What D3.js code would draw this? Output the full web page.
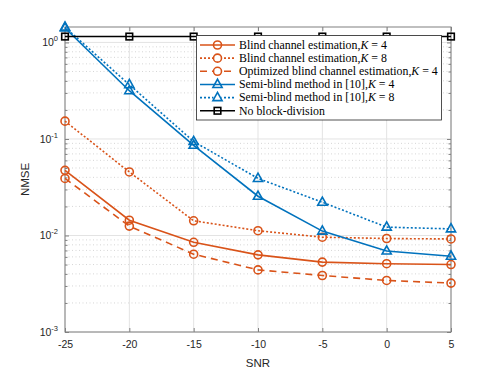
<!DOCTYPE html>
<html><head><meta charset="utf-8">
<script src="https://cdn.jsdelivr.net/npm/d3@7"></script>
<style>body{margin:0;background:#fff}svg{display:block}</style>
</head><body>
<script>
const snr = [-25, -20, -15, -10, -5, 0, 5];
const blindK4 = [0.0473, 0.0144, 0.0085, 0.0063, 0.0053, 0.0051, 0.0050];
const blindK8 = [0.153, 0.0455, 0.0142, 0.0112, 0.0096, 0.0093, 0.0092];
const optBlindK4 = [0.039, 0.0125, 0.0064, 0.0044, 0.00385, 0.00342, 0.00321];
const semiK4 = [1.41, 0.316, 0.086, 0.0255, 0.0111, 0.0069, 0.0061];
const semiK8 = [1.44, 0.365, 0.094, 0.039, 0.0221, 0.0122, 0.0117];
const noBlock = [1.15, 1.15, 1.15, 1.15, 1.15, 1.15, 1.15];
const xTicks = [-25, -20, -15, -10, -5, 0, 5];
const yTickExps = [0, -1, -2, -3];
const legendLabels = [
  "Blind channel estimation,", "Blind channel estimation,",
  "Optimized blind channel estimation,", "Semi-blind method in [10],",
  "Semi-blind method in [10],", "No block-division"];
const legendK = ["4", "8", "4", "4", "8", null];

const W = 498, H = 374;
const L = 65, R = 451, T = 27, B = 332;
const orange = "#D95319", blue = "#0072BD";

const svg = d3.select("body").append("svg").attr("width", W).attr("height", H);
const x = d3.scaleLinear().domain([-25, 5]).range([L, R]);
const y = d3.scaleLog().domain([1e-3, 1.445]).range([B, T]);

// grid
const g = svg.append("g");
const minor = [];
for (let e = -3; e <= 0; e++) for (let m = 2; m <= 9; m++) { const v = m * Math.pow(10, e); if (v < 1.445) minor.push(v); }
g.selectAll(".mg").data(minor).enter().append("line")
  .attr("x1", L).attr("x2", R).attr("y1", d => y(d)).attr("y2", d => y(d))
  .attr("stroke", "#bbb").attr("stroke-width", 0.6).attr("stroke-dasharray", "1,2.5");
g.selectAll(".yg").data(yTickExps).enter().append("line")
  .attr("x1", L).attr("x2", R).attr("y1", d => y(Math.pow(10, d))).attr("y2", d => y(Math.pow(10, d)))
  .attr("stroke", "#e3e3e3").attr("stroke-width", 1);
g.selectAll(".xg").data(xTicks).enter().append("line")
  .attr("y1", T).attr("y2", B).attr("x1", d => x(d)).attr("x2", d => x(d))
  .attr("stroke", "#e3e3e3").attr("stroke-width", 1);

// axes box
const axCol = "#808080";
svg.append("rect").attr("x", L).attr("y", T).attr("width", R - L).attr("height", B - T)
  .attr("fill", "none").attr("stroke", axCol).attr("stroke-width", 1);
const xAxB = d3.axisBottom(x).tickValues(xTicks).tickSizeInner(-4).tickSizeOuter(0).tickPadding(9).tickFormat(d3.format("d"));
const xAxT = d3.axisTop(x).tickValues(xTicks).tickSizeInner(-4).tickSizeOuter(0).tickFormat("");
const gxb = svg.append("g").attr("transform", `translate(0,${B})`).call(xAxB);
svg.append("g").attr("transform", `translate(0,${T})`).call(xAxT).select(".domain").remove();
gxb.select(".domain").remove();
svg.selectAll(".tick line").attr("stroke", axCol);
gxb.selectAll("text").attr("font-family", "Liberation Sans, Arial").attr("font-size", 10.5).attr("fill", "#262626")
  .text(d => d < 0 ? "-" + Math.abs(d) : d);

// y ticks (major + minor), both sides
const yAxL = d3.axisLeft(y).tickValues(yTickExps.map(e => Math.pow(10, e))).tickSizeInner(-4).tickSizeOuter(0).tickFormat("");
const yAxR = d3.axisRight(y).tickValues(yTickExps.map(e => Math.pow(10, e))).tickSizeInner(-4).tickSizeOuter(0).tickFormat("");
const ymL = d3.axisLeft(y).tickValues(minor).tickSizeInner(-2.5).tickSizeOuter(0).tickFormat("");
const ymR = d3.axisRight(y).tickValues(minor).tickSizeInner(-2.5).tickSizeOuter(0).tickFormat("");
[[yAxL, L], [ymL, L], [yAxR, R], [ymR, R]].forEach(([a, px]) => {
  const gg = svg.append("g").attr("transform", `translate(${px},0)`).call(a);
  gg.select(".domain").remove();
  gg.selectAll("line").attr("stroke", axCol);
});
const ylab = svg.append("g");
yTickExps.forEach(e => {
  const t = ylab.append("text").attr("x", L - 7).attr("y", y(Math.pow(10, e)) + 4)
    .attr("text-anchor", "end").attr("font-family", "Liberation Sans, Arial").attr("fill", "#262626");
  t.append("tspan").attr("font-size", 10.5).text("10");
  t.append("tspan").attr("font-size", 7.5).attr("dy", -5).text(e === 0 ? "0" : "-" + Math.abs(e));
});

// axis titles
svg.append("text").attr("x", x(-10)).attr("y", 367).attr("text-anchor", "middle")
  .attr("font-family", "Liberation Sans, Arial").attr("font-size", 11.5).attr("fill", "#262626").text("SNR");
svg.append("text").attr("transform", `translate(29,${(T + B) / 2}) rotate(-90)`).attr("text-anchor", "middle")
  .attr("font-family", "Liberation Sans, Arial").attr("font-size", 11.5).attr("fill", "#262626").text("NMSE");

// series
const series = [
  { v: blindK4, c: orange, dash: null, m: "circle" },
  { v: blindK8, c: orange, dash: "2,2", m: "circle" },
  { v: optBlindK4, c: orange, dash: "7,5", m: "circle" },
  { v: semiK4, c: blue, dash: null, m: "tri" },
  { v: semiK8, c: blue, dash: "2,2", m: "tri" },
  { v: noBlock, c: "#000", dash: null, m: "square" }
];
const line = d3.line().x(d => x(d[0])).y(d => y(d[1]));
const triPath = "M0,-5.2 L4.6,3 L-4.6,3 Z";
function marker(sel, m, c) {
  if (m === "circle") sel.append("circle").attr("r", 4).attr("fill", "none").attr("stroke", c).attr("stroke-width", 1.6);
  else if (m === "tri") sel.append("path").attr("d", triPath).attr("fill", "none").attr("stroke", c).attr("stroke-width", 1.6);
  else sel.append("rect").attr("x", -3.3).attr("y", -3.3).attr("width", 6.6).attr("height", 6.6).attr("fill", "none").attr("stroke", c).attr("stroke-width", 1.6);
}
const plot = svg.append("g");
series.forEach(s => {
  const pts = snr.map((d, i) => [d, s.v[i]]);
  plot.append("path").attr("d", line(pts)).attr("fill", "none").attr("stroke", s.c)
    .attr("stroke-width", 1.6).attr("stroke-dasharray", s.dash);
  pts.forEach(p => {
    const gm = plot.append("g").attr("transform", `translate(${x(p[0])},${y(p[1])})`);
    marker(gm, s.m, s.c);
  });
});

// legend
const lx = 196.5, ly = 35.5, lw = 245, lh = 84.5;
const lg = svg.append("g");
lg.append("rect").attr("x", lx).attr("y", ly).attr("width", lw).attr("height", lh)
  .attr("fill", "#fff").attr("stroke", "#262626").attr("stroke-width", 0.8);
const texts = [];
series.forEach((s, i) => {
  const cy = 45 + i * 13.15;
  lg.append("line").attr("x1", 200).attr("x2", 235).attr("y1", cy).attr("y2", cy)
    .attr("stroke", s.c).attr("stroke-width", 1.6).attr("stroke-dasharray", s.dash);
  const gm = lg.append("g").attr("transform", `translate(217.5,${cy})`);
  if (s.dash) gm.append("rect").attr("x", -4).attr("y", -4).attr("width", 8).attr("height", 8).attr("fill", "#fff");
  marker(gm, s.m, s.c);
  const t = lg.append("text").attr("x", 239).attr("y", cy + 3.8)
    .attr("font-family", "Liberation Serif, Times New Roman, serif").attr("font-size", 10).attr("fill", "#000");
  t.append("tspan").text(legendLabels[i]);
  if (legendK[i]) {
    t.append("tspan").attr("font-style", "italic").text("K");
    t.append("tspan").text(" = " + legendK[i]);
  }
  texts.push(t);
});
// scale font so the longest entry ends where the reference's does
const maxW = d3.max(texts, t => t.node().getComputedTextLength());
const fs = 10 * (438 - 239) / maxW;
texts.forEach(t => t.attr("font-size", fs));
</script>
</body></html>
